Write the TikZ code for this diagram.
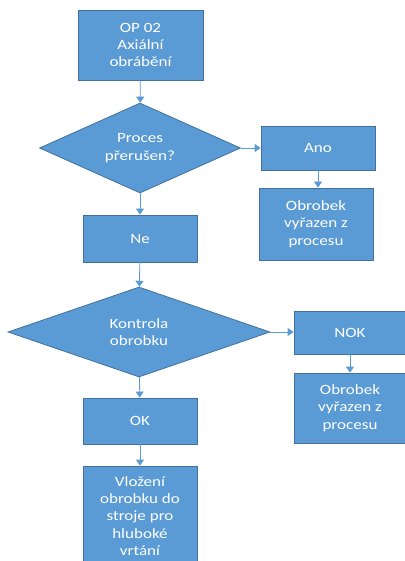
\documentclass[tikz,border=0pt]{standalone}
\usepackage{fontspec}
\setmainfont{Carlito}[FakeStretch=1.2]
\usetikzlibrary{shapes.geometric,arrows.meta}
\definecolor{boxfill}{HTML}{5B9BD5}
\definecolor{boxline}{HTML}{41719C}
\definecolor{flow}{HTML}{5B9BD5}
\tikzset{
  base/.style={fill=boxfill, draw=boxline, line width=0.8pt, text=white,
    align=center, inner sep=0pt, font=\fontsize{14.2pt}{17.3pt}\selectfont},
  stepbox/.style={base, rectangle, minimum width=#1},
  decision/.style={base, diamond, aspect=2.2},
  link/.style={draw=flow, line width=0.8pt, -{Triangle[width=8pt,length=6pt]}}
}
\begin{document}
\begin{tikzpicture}[x=1pt, y=-1pt]
\useasboundingbox (0,0) rectangle (404,561);
\fill[white] (0,0) rectangle (404,561);

% main column
\node[stepbox=125pt, minimum height=70pt] (op) at (140.5,45) {OP 02\\Axiální\\obrábění};
\node[decision, minimum width=201pt, minimum height=90pt] (d1) at (140,148) {Proces\\přerušen?};
\node[stepbox=114pt, minimum height=47pt] (ne) at (140,238.5) {Ne};
\node[decision, minimum width=262pt, minimum height=90pt] (d2) at (139,332) {Kontrola\\obrobku};
\node[stepbox=114pt, minimum height=46pt] (ok) at (140,421) {OK};
\node[stepbox=114pt, minimum height=100pt] (vl) at (140,516) {Vložení\\obrobku do\\stroje pro\\hluboké\\vrtání};

% side branches
\node[stepbox=114pt, minimum height=44pt] (ano) at (318,148) {Ano};
\node[stepbox=114pt, minimum height=72pt] (ob1) at (316,224) {Obrobek\\vyřazen z\\procesu};
\node[stepbox=112pt, minimum height=43pt] (nok) at (350,332.5) {NOK};
\node[stepbox=112pt, minimum height=70pt] (ob2) at (350,408) {Obrobek\\vyřazen z\\procesu};

% connectors
\draw[link] (op) -- (d1);
\draw[link] (d1) -- (ne);
\draw[link] (ne) -- (d2);
\draw[link] (d2) -- (ok);
\draw[link] (ok) -- (vl);
\draw[link] (d1.east) -- (ano.west);
\draw[link] (ano.south) -- (ano.south |- ob1.north);
\draw[link] (d2.east) -- (d2.east -| nok.west);
\draw[link] (nok) -- (ob2);
\end{tikzpicture}
\end{document}
